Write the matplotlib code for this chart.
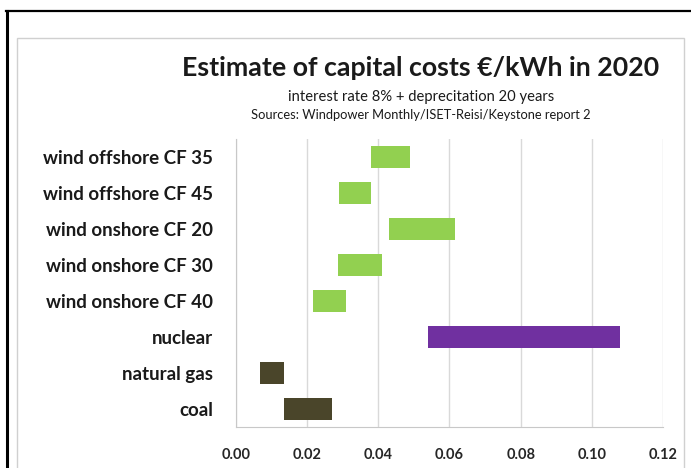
import matplotlib
matplotlib.use("Agg")
import matplotlib.pyplot as plt
from matplotlib.lines import Line2D
from matplotlib.patches import Rectangle

plt.rcParams['font.family'] = ['Lato', 'DejaVu Sans']

categories = ['wind offshore CF 35', 'wind offshore CF 45', 'wind onshore CF 20',
              'wind onshore CF 30', 'wind onshore CF 40', 'nuclear', 'natural gas', 'coal']
low = [0.038, 0.029, 0.043, 0.0287, 0.0215, 0.054, 0.0068, 0.0136]
high = [0.049, 0.038, 0.0615, 0.041, 0.031, 0.108, 0.0136, 0.027]
colors = ['#92d050'] * 5 + ['#7030a0', '#4a452a', '#4a452a']
xticks = [0.00, 0.02, 0.04, 0.06, 0.08, 0.10, 0.12]

W, H = 691, 468
fig = plt.figure(figsize=(W / 100, H / 100), dpi=100)
fig.patch.set_facecolor('white')

def fx(px):
    return px / W

def fy(py):
    return 1 - py / H

# outer black border (left and top) and inner grey frame
fig.add_artist(Line2D([fx(7), fx(7)], [fy(11), 0], color='black', lw=2.2,
                      transform=fig.transFigure))
fig.add_artist(Line2D([fx(6), 1], [fy(11), fy(11)], color='black', lw=1.6,
                      transform=fig.transFigure))
fig.add_artist(Rectangle((fx(17), fy(480)), fx(684 - 17), (480 - 38) / H,
                         transform=fig.transFigure, fill=False,
                         edgecolor='#d0d0d0', lw=1.0))

ax = fig.add_axes([fx(236), fy(427), fx(663 - 236), (427 - 139) / H])
y = range(len(categories))
widths = [h - l for l, h in zip(low, high)]
ax.barh(y, widths, left=low, height=0.63, color=colors, zorder=3)

ax.set_xlim(0, 0.12)
ax.set_ylim(len(categories) - 0.5, -0.5)
ax.set_xticks(xticks)
ax.set_xticklabels(['%.2f' % v for v in xticks], fontsize=10.5, fontweight='bold',
                   color='#262626')
ax.set_yticks(list(y))
ax.set_yticklabels(categories, fontsize=13.5, fontweight='bold', color='#1a1a1a')
ax.tick_params(axis='x', length=0, pad=15)
ax.tick_params(axis='y', length=0, pad=16.5)
ax.grid(axis='x', color='#d9d9d9', lw=1.0, zorder=0)
for s in ['top', 'right']:
    ax.spines[s].set_visible(False)
ax.spines['left'].set_color('#c8c8c8')
ax.spines['bottom'].set_color('#c8c8c8')

fig.text(fx(421), fy(68), 'Estimate of capital costs €/kWh in 2020', ha='center',
         va='center', fontsize=19.3, fontweight='bold', color='#1a1a1a')
fig.text(fx(421), fy(97), 'interest rate 8% + deprecitation 20 years', ha='center',
         va='center', fontsize=10.6, color='#1a1a1a')
fig.text(fx(421), fy(115), 'Sources: Windpower Monthly/ISET-Reisi/Keystone report 2',
         ha='center', va='center', fontsize=9.3, color='#1a1a1a')

fig.savefig('out.png', dpi=100, facecolor='white')
